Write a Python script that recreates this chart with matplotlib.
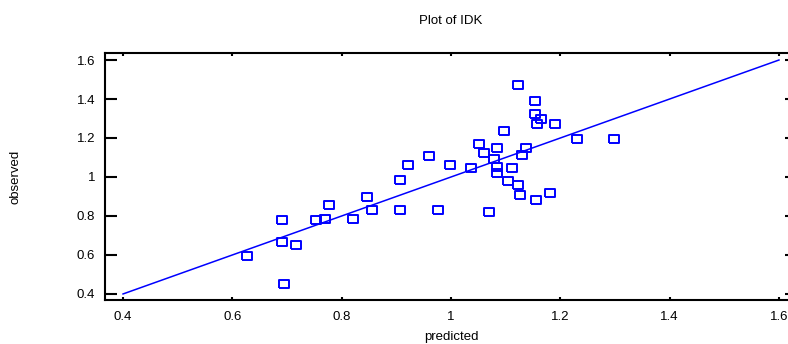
"""
Observed vs predicted plot for IDK
"""
import matplotlib
matplotlib.use("Agg")
import matplotlib.pyplot as plt

plt.rcParams["font.family"] = ["Liberation Sans", "DejaVu Sans"]

# values
predicted = [0.627, 0.690, 0.690, 0.694, 0.716, 0.753, 0.769, 0.777, 0.821, 0.847,
             0.855, 0.907, 0.907, 0.922, 0.959, 0.977, 0.999, 1.037, 1.052, 1.060,
             1.085, 1.079, 1.085, 1.085, 1.070, 1.097, 1.112, 1.104, 1.123, 1.127,
             1.155, 1.130, 1.138, 1.123, 1.153, 1.153, 1.164, 1.157, 1.190, 1.230,
             1.298, 1.182]
observed = [0.596, 0.778, 0.667, 0.450, 0.650, 0.778, 0.786, 0.856, 0.786, 0.899,
            0.829, 0.985, 0.829, 1.063, 1.106, 0.831, 1.063, 1.046, 1.168, 1.123,
            1.150, 1.091, 1.051, 1.021, 0.822, 1.234, 1.048, 0.978, 0.961, 0.909,
            0.884, 1.114, 1.150, 1.470, 1.391, 1.325, 1.297, 1.272, 1.272, 1.193,
            1.193, 0.916]

# the 45 degree reference line
diag = [0.4, 1.6]

xticks = [0.4, 0.6, 0.8, 1.0, 1.2, 1.4, 1.6]
xtick_labels = ["0.4", "0.6", "0.8", "1", "1.2", "1.4", "1.6"]
yticks = [0.4, 0.6, 0.8, 1.0, 1.2, 1.4, 1.6]
ytick_labels = ["0.4", "0.6", "0.8", "1", "1.2", "1.4", "1.6"]

fig = plt.figure(figsize=(7.88, 3.44), dpi=100)
# axes runs a little past the right edge, like the original
ax = fig.add_axes([105 / 788, 44 / 344, 692 / 788, 247 / 344])

ax.plot(diag, diag, color="#0000ff", lw=1.1)
box = [(-1.25, -1), (1.25, -1), (1.25, 1), (-1.25, 1), (-1.25, -1)]
ax.plot(predicted, observed, ls="none", marker=box, ms=6.6, mfc="none",
        mec="#0000ff", mew=1.4)

ax.set_xlim(0.367, 1.633)
ax.set_ylim(0.369, 1.636)
ax.set_xticks(xticks, xtick_labels)
ax.set_yticks(yticks, ytick_labels)

for sp in ax.spines.values():
    sp.set_linewidth(1.5)

ax.tick_params(axis="x", direction="in", top=True, length=2.2, width=1.5,
               labelsize=9.5, pad=8, colors="black")
ax.tick_params(axis="y", direction="in", right=True, length=8.6, width=1.5,
               labelsize=9.5, pad=7, colors="black")

ax.set_title("Plot of IDK", fontsize=9.5, pad=21)
ax.set_xlabel("predicted", fontsize=9.5, labelpad=5.5)
ax.set_ylabel("observed", fontsize=9.5, labelpad=40)

fig.savefig("out.png", dpi=100)
